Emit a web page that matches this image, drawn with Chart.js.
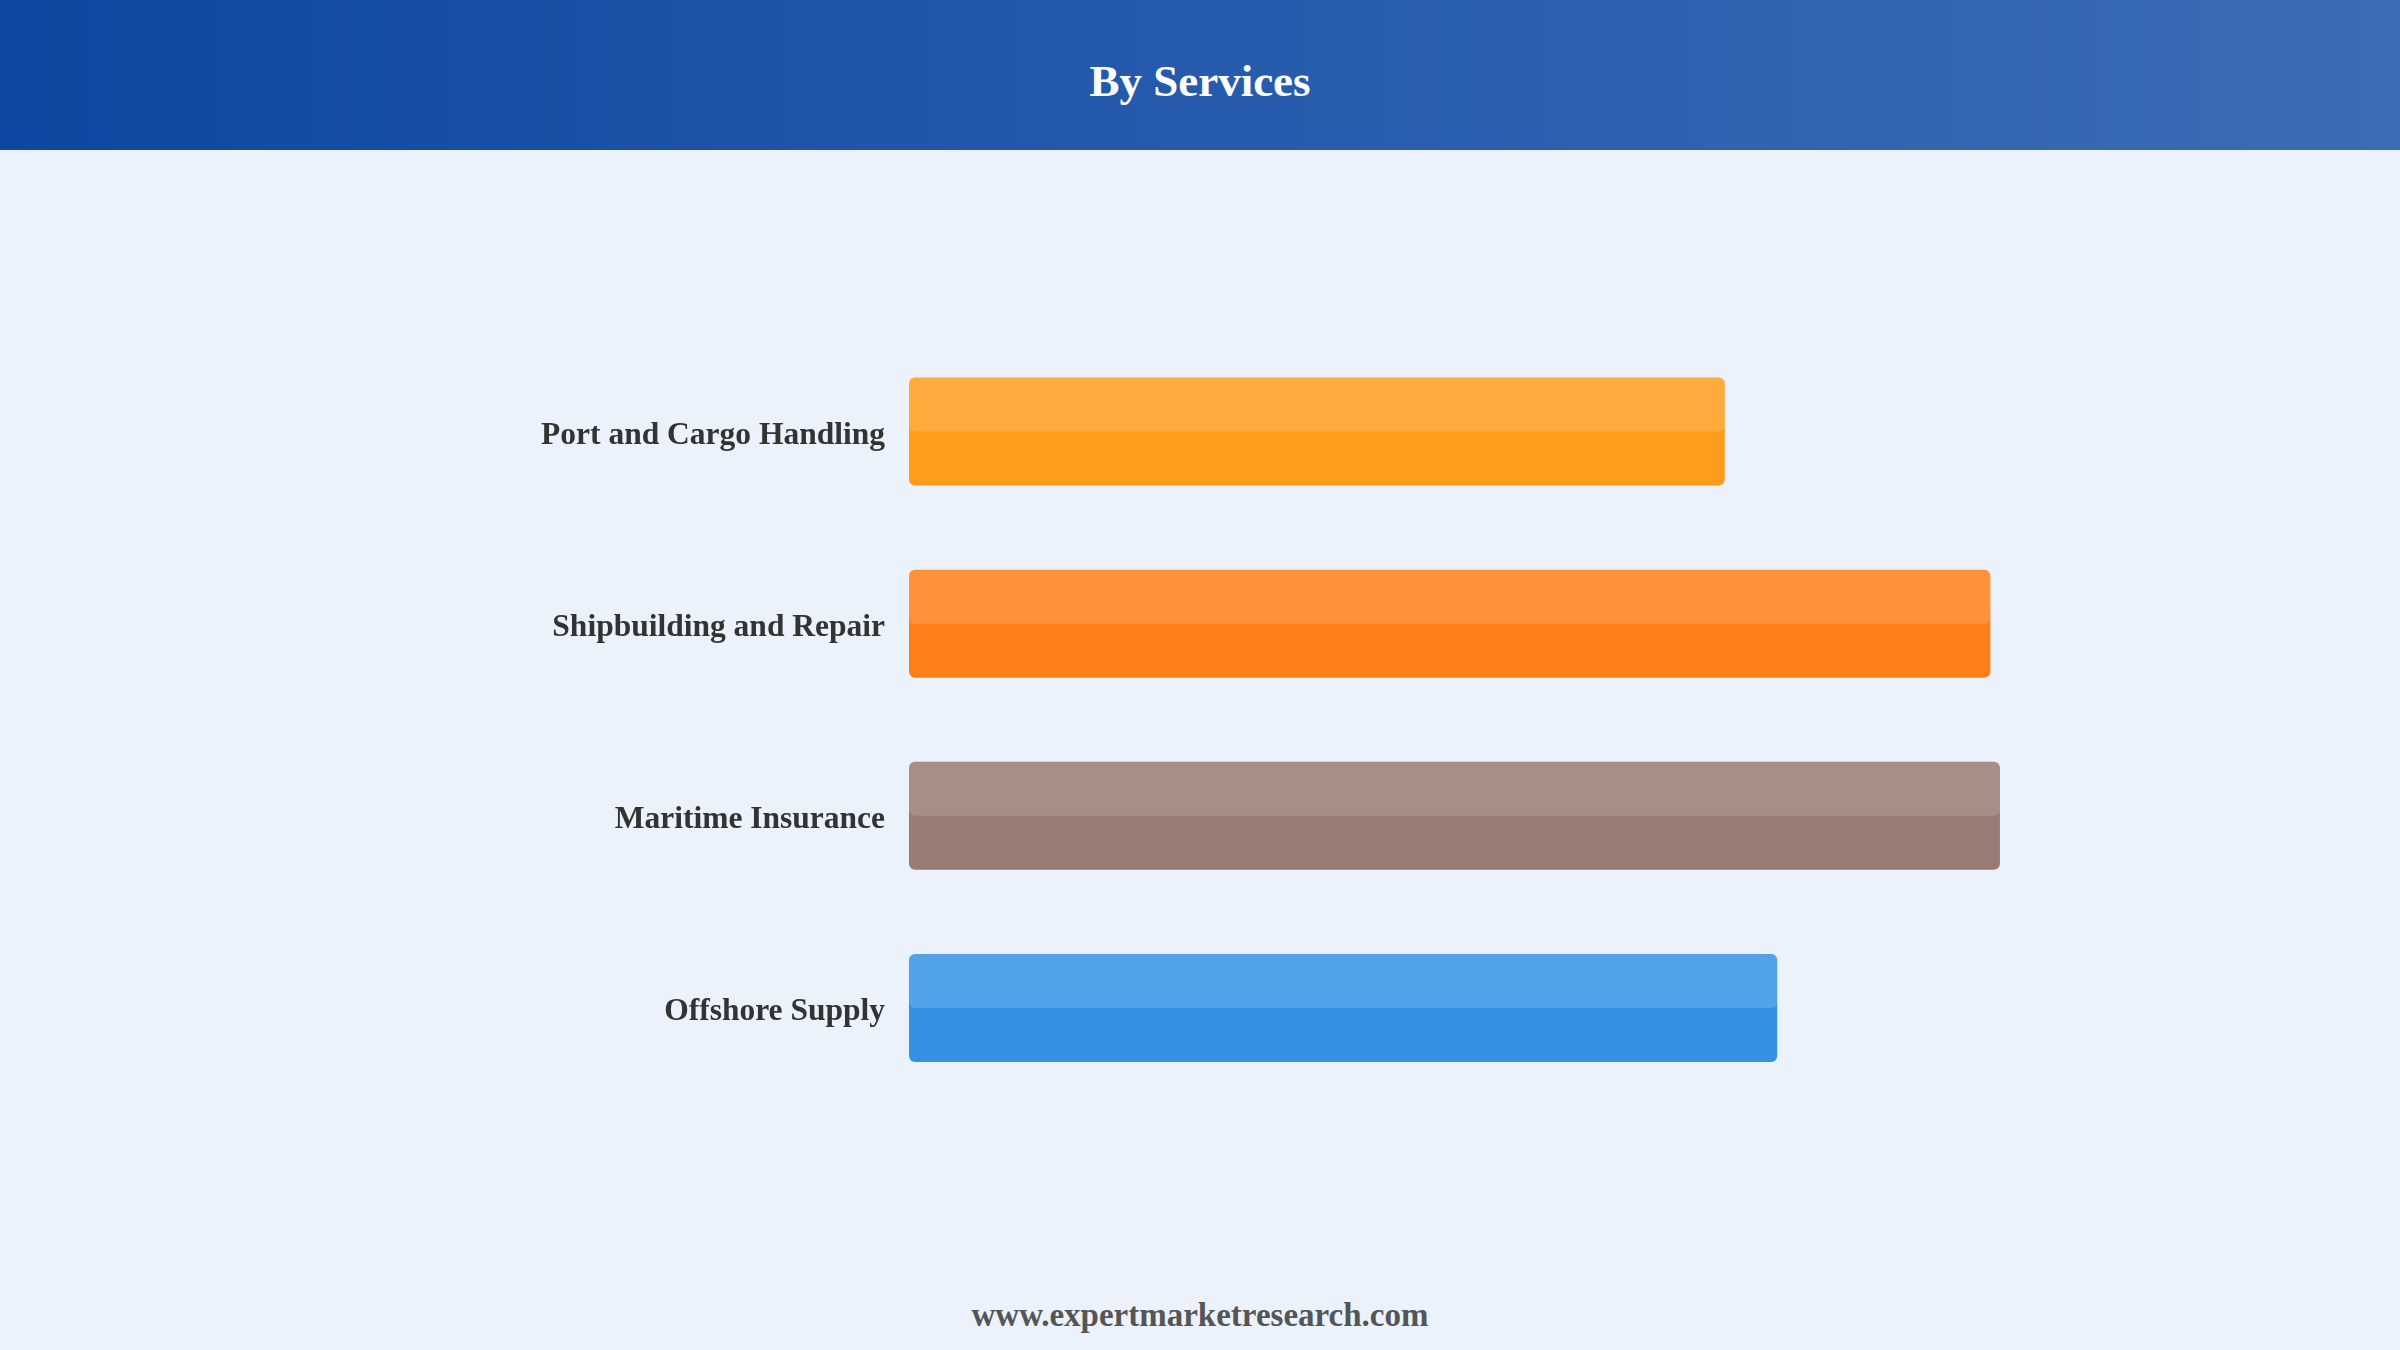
<!DOCTYPE html>
<html>
<head>
<meta charset="utf-8">
<title>By Services</title>
<script src="https://cdn.jsdelivr.net/npm/chart.js@4.4.1/dist/chart.umd.min.js"></script>
<style>
  html, body {
    margin: 0;
    padding: 0;
    width: 2400px;
    height: 1350px;
    background: #EBF2FB;
    overflow: hidden;
    font-family: "Liberation Serif", "Times New Roman", serif;
  }
  .header {
    position: absolute;
    left: 0; top: 0;
    width: 2400px; height: 150px;
    background: linear-gradient(90deg, #0D47A1 0%, #2157AB 40%, #3D6CB5 100%);
    color: #fff;
    font-weight: bold;
    font-size: 45px;
    text-align: center;
    line-height: 162px;
  }
  .chart-box {
    position: absolute;
    left: 0; top: 150px;
    width: 2400px; height: 1100px;
  }
  .footer {
    position: absolute;
    left: 0; top: 1290px;
    width: 2400px;
    text-align: center;
    font-weight: bold;
    font-size: 33px;
    line-height: 50px;
    color: #555;
  }
</style>
</head>
<body>
<div class="header">By Services</div>
<div class="chart-box"><canvas id="barChart"></canvas></div>
<div class="footer">www.expertmarketresearch.com</div>

<script>
// Chart data
const categories = ["Port and Cargo Handling", "Shipbuilding and Repair", "Maritime Insurance", "Offshore Supply"];
const shareValues = [68.5, 90.8, 91.6, 72.9];
const barColors = ["#FF9C1C", "#FE7F1A", "#987B72", "#3392E6"];

// Light upper half on every bar
const glossPlugin = {
  id: "gloss",
  afterDatasetsDraw(chart) {
    const ctx = chart.ctx;
    const meta = chart.getDatasetMeta(0);
    ctx.save();
    ctx.fillStyle = "rgba(255, 255, 255, 0.15)";
    meta.data.forEach((bar) => {
      const left = Math.min(bar.base, bar.x);
      const w = Math.abs(bar.x - bar.base);
      const top = bar.y - bar.height / 2;
      ctx.beginPath();
      ctx.roundRect(left, top, w, bar.height / 2, 6);
      ctx.fill();
    });
    ctx.restore();
  }
};

document.addEventListener("DOMContentLoaded", function () {
  const ctx = document.getElementById("barChart").getContext("2d");
  new Chart(ctx, {
    type: "bar",
    data: {
      labels: categories,
      datasets: [{
        label: "Share",
        data: shareValues,
        backgroundColor: barColors,
        borderWidth: 0,
        borderRadius: 6,
        borderSkipped: false,
        barPercentage: 0.75,
        categoryPercentage: 0.75
      }]
    },
    options: {
      indexAxis: "y",
      responsive: true,
      maintainAspectRatio: false,
      animation: false,
      layout: {
        padding: { top: 185.5, bottom: 146, left: 0, right: 300 }
      },
      plugins: {
        legend: { display: false },
        tooltip: { enabled: false }
      },
      scales: {
        x: {
          display: false,
          min: 0,
          max: 100
        },
        y: {
          afterFit: function (axis) {
            axis.width = 909;
          },
          grid: { display: false, drawTicks: false },
          border: { display: false },
          ticks: {
            padding: 24,
            labelOffset: 4,
            color: "#333333",
            font: {
              family: "Liberation Serif",
              size: 31.5,
              weight: "bold"
            }
          }
        }
      }
    },
    plugins: [glossPlugin]
  });
});
</script>
</body>
</html>
